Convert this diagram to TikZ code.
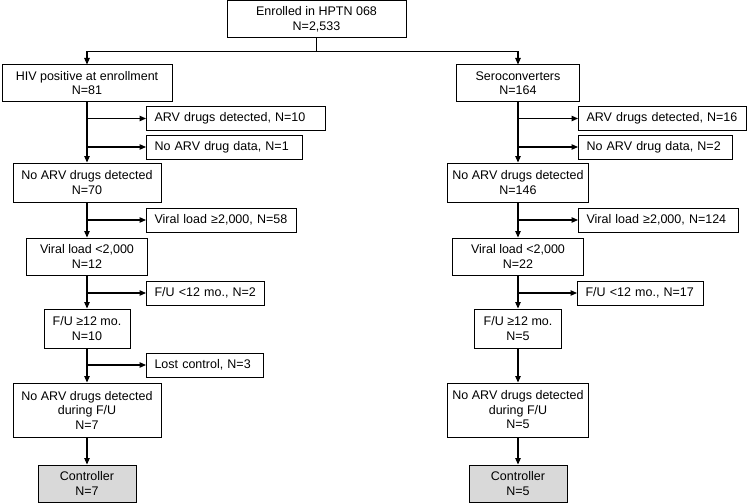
\documentclass[tikz,border=0pt]{standalone}
\usepackage{fontspec}
\setmainfont{Liberation Sans}
\usetikzlibrary{arrows.meta}
\begin{document}
\begin{tikzpicture}[
        x=1pt,y=-1pt,
        box/.style={draw, line width=1pt, inner sep=0pt, align=center,
            font=\fontsize{12.5}{14.5}\selectfont},
        sidebox/.style={box, anchor=west, align=left, inner xsep=8pt, minimum height=24pt},
        endbox/.style={box, fill=gray!30},
        link/.style={line width=1.2pt, -{Triangle[length=6.5pt,width=5.5pt]}},
    ]
  \useasboundingbox (0,0) rectangle (750,503);
  % top
  \node[box, minimum width=179pt, minimum height=37pt] (enrolled) at (316.5,19.5) {Enrolled in HPTN 068\\N=2,533};
  % left column
  \node[box, minimum width=170pt, minimum height=36pt] (hivpos) at (87,83) {HIV positive at enrollment\\N=81};
  \node[sidebox, text width=163pt] (arvL) at (146,118.5) {ARV drugs detected, N=10};
  \node[sidebox, text width=140pt] (nodataL) at (146,147) {No ARV drug data, N=1};
  \node[box, minimum width=148pt, minimum height=39pt] (noarvL) at (87,182.5) {No ARV drugs detected\\N=70};
  \node[sidebox, text width=134pt] (vlhighL) at (146,220) {Viral load ≥2,000, N=58};
  \node[box, minimum width=121pt, minimum height=37pt] (vllowL) at (87,256.5) {Viral load <2,000\\N=12};
  \node[sidebox, text width=102pt] (fushortL) at (146,293) {F/U <12 mo., N=2};
  \node[box, minimum width=86pt, minimum height=39pt] (fuL) at (87,328.5) {F/U ≥12 mo.\\N=10};
  \node[sidebox, text width=101pt] (lostL) at (146,365) {Lost control, N=3};
  \node[box, minimum width=148pt, minimum height=54pt] (duringL) at (87,410) {No ARV drugs detected\\during F/U\\N=7};
  \node[endbox, minimum width=98pt, minimum height=37pt] (ctrlL) at (87,483.5) {Controller\\N=7};
  % right column
  \node[box, minimum width=123pt, minimum height=36pt] (sero) at (518,83) {Seroconverters\\N=164};
  \node[sidebox, text width=152pt] (arvR) at (578,118.5) {ARV drugs detected, N=16};
  \node[sidebox, text width=138pt] (nodataR) at (578,147) {No ARV drug data, N=2};
  \node[box, minimum width=141pt, minimum height=39pt] (noarvR) at (518,182.5) {No ARV drugs detected\\N=146};
  \node[sidebox, text width=144pt] (vlhighR) at (578,220) {Viral load ≥2,000, N=124};
  \node[box, minimum width=131pt, minimum height=37pt] (vllowR) at (518,256.5) {Viral load <2,000\\N=22};
  \node[sidebox, text width=110pt] (fushortR) at (577,293) {F/U <12 mo., N=17};
  \node[box, minimum width=87pt, minimum height=39pt] (fuR) at (518,328.5) {F/U ≥12 mo.\\N=5};
  \node[box, minimum width=141pt, minimum height=54pt] (duringR) at (518,410) {No ARV drugs detected\\during F/U\\N=5};
  \node[endbox, minimum width=98pt, minimum height=37pt] (ctrlR) at (518,483.5) {Controller\\N=5};

  % split
  \draw[line width=1.2pt] (enrolled.south) -- ++(0,13) coordinate (fork);
  \draw[link] (fork) -| (hivpos.north);
  \draw[link] (fork) -| (sero.north);

  % left trunk
  \draw[link] (hivpos.south) -- (noarvL.north);
  \draw[link] (hivpos.south |- arvL.west) -- (arvL.west);
  \draw[link] (hivpos.south |- nodataL.west) -- (nodataL.west);
  \draw[link] (noarvL.south) -- (vllowL.north);
  \draw[link] (noarvL.south |- vlhighL.west) -- (vlhighL.west);
  \draw[link] (vllowL.south) -- (fuL.north);
  \draw[link] (vllowL.south |- fushortL.west) -- (fushortL.west);
  \draw[link] (fuL.south) -- (duringL.north);
  \draw[link] (fuL.south |- lostL.west) -- (lostL.west);
  \draw[link] (duringL.south) -- (ctrlL.north);

  % right trunk
  \draw[link] (sero.south) -- (noarvR.north);
  \draw[link] (sero.south |- arvR.west) -- (arvR.west);
  \draw[link] (sero.south |- nodataR.west) -- (nodataR.west);
  \draw[link] (noarvR.south) -- (vllowR.north);
  \draw[link] (noarvR.south |- vlhighR.west) -- (vlhighR.west);
  \draw[link] (vllowR.south) -- (fuR.north);
  \draw[link] (vllowR.south |- fushortR.west) -- (fushortR.west);
  \draw[link] (fuR.south) -- (duringR.north);
  \draw[link] (duringR.south) -- (ctrlR.north);
\end{tikzpicture}
\end{document}
